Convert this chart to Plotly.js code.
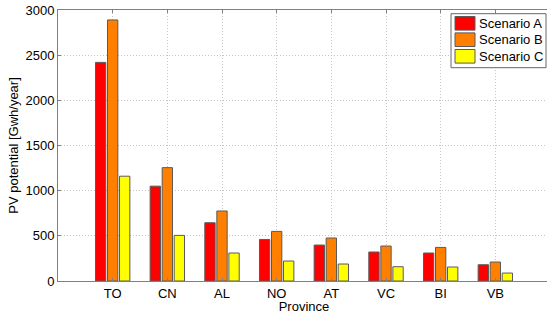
<!DOCTYPE html>
<html>
<head>
<meta charset="utf-8">
<script src="https://cdn.plot.ly/plotly-3.0.1.min.js"></script>
<style>
html,body{margin:0;padding:0;width:547px;height:314px;overflow:hidden;background:#fff;}
#chart{width:552px;height:314px;}
</style>
</head>
<body>
<div id="chart"></div>
<script>
var provinces = ["TO", "CN", "AL", "NO", "AT", "VC", "BI", "VB"];
var scenarioA = [2420, 1050, 645, 460, 398, 321, 310, 180];
var scenarioB = [2890, 1255, 775, 549, 476, 387, 372, 210];
var scenarioC = [1160, 505, 310, 221, 188, 158, 155, 88];
var seriesNames = ["Scenario A", "Scenario B", "Scenario C"];
var seriesColors = ["#ff0000", "#ff8000", "#ffff00"];
var seriesValues = [scenarioA, scenarioB, scenarioC];

var font = "Liberation Sans, Arial, Helvetica, sans-serif";

var traces = seriesValues.map(function (vals, i) {
  return {
    type: "bar",
    name: seriesNames[i],
    x: provinces,
    y: vals,
    marker: { color: seriesColors[i], line: { color: "#5a5a5a", width: 1 } },
    showlegend: false,
    hoverinfo: "none"
  };
});

// custom MATLAB-like legend
var L = 58, W = 492, B = 281, H = 271;
function px(x) { return (x - L) / W; }
function py(y) { return (B - y) / H; }
var shapes = [{
  type: "rect", xref: "paper", yref: "paper",
  x0: px(451), x1: px(546), y0: py(67.7), y1: py(13.7),
  fillcolor: "#ffffff", line: { color: "#666666", width: 1 }
}];
var annotations = [];
var rowY = [23.3, 39.7, 56.3];
seriesNames.forEach(function (n, i) {
  shapes.push({
    type: "rect", xref: "paper", yref: "paper",
    x0: px(455), x1: px(475), y0: py(rowY[i] + 6.8), y1: py(rowY[i] - 6.8),
    fillcolor: seriesColors[i], line: { color: "#5a5a5a", width: 1 }
  });
  annotations.push({
    xref: "paper", yref: "paper", x: px(477), y: py(rowY[i]),
    xanchor: "left", yanchor: "middle", showarrow: false,
    text: n, font: { family: font, size: 13, color: "#000" }
  });
});

var layout = {
  width: 552, height: 314,
  margin: { l: 58, r: 2, t: 10, b: 33, pad: 0 },
  paper_bgcolor: "#ffffff", plot_bgcolor: "#ffffff",
  barmode: "group", bargap: 0.34, bargroupgap: 0.14,
  font: { family: font, size: 13, color: "#000" },
  xaxis: {
    type: "category", range: [-1, 8],
    showline: true, linecolor: "#808080", linewidth: 1, mirror: "ticks",
    ticks: "inside", ticklen: 3, tickcolor: "#808080",
    showgrid: true, gridcolor: "#c4c4c4", griddash: "1px,2px", gridwidth: 1,
    tickfont: { family: font, size: 13, color: "#000" },
    title: { text: "Province", standoff: 0, font: { family: font, size: 13, color: "#000" } },
    zeroline: false, fixedrange: true
  },
  yaxis: {
    range: [0, 3000], dtick: 500, tick0: 0,
    showline: true, linecolor: "#808080", linewidth: 1, mirror: "ticks",
    ticks: "inside", ticklen: 3, tickcolor: "#808080",
    showgrid: true, gridcolor: "#c4c4c4", griddash: "1px,2px", gridwidth: 1,
    tickfont: { family: font, size: 13, color: "#000" },
    title: { text: "PV potential [Gwh/year]", standoff: 3, font: { family: font, size: 13, color: "#000" } },
    zeroline: false, fixedrange: true
  },
  shapes: shapes,
  annotations: annotations
};

Plotly.newPlot("chart", traces, layout, { displayModeBar: false, staticPlot: true });
</script>
</body>
</html>
